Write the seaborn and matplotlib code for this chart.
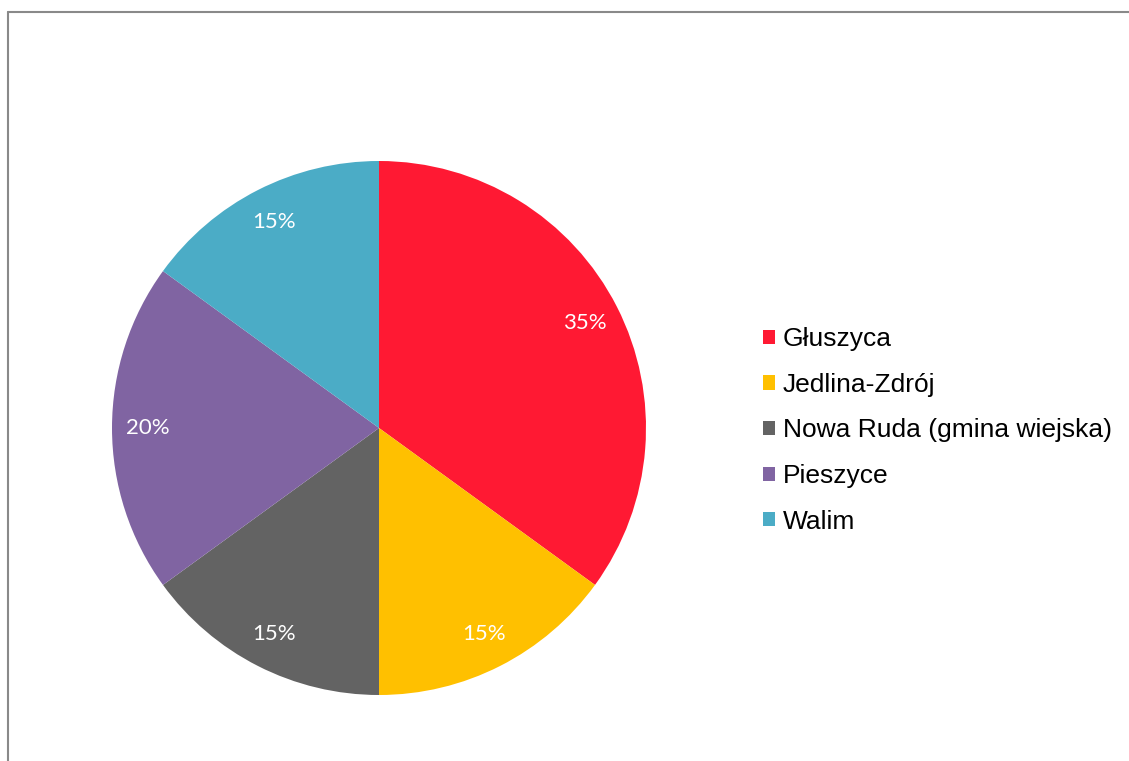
import matplotlib
matplotlib.use("Agg")
import matplotlib.pyplot as plt
import seaborn as sns
from matplotlib.patches import Patch
from matplotlib.lines import Line2D

gminy = ['Głuszyca', 'Jedlina-Zdrój', 'Nowa Ruda (gmina wiejska)', 'Pieszyce', 'Walim']
udzial = [35, 15, 15, 20, 15]
kolory = ['#FF1933', '#FFC000', '#636363', '#8064A2', '#4BACC6']

sns.set_theme(style="white")
plt.rcParams['font.family'] = ['Liberation Sans', 'DejaVu Sans']
plt.rcParams['text.color'] = 'black'

fig = plt.figure(figsize=(11.29, 7.61), dpi=100)
W, H = 1129, 761

# pie center (379, 428), radius 267 px
cx, cy, r = 379, 428, 267
ax = fig.add_axes([(cx - r) / W, 1 - (cy + r) / H, 2 * r / W, 2 * r / H])
wedges, texts, autotexts = ax.pie(
    udzial, colors=kolory, startangle=90, counterclock=False,
    autopct='%1.0f%%', pctdistance=0.865, radius=1,
    wedgeprops=dict(linewidth=0),
    textprops=dict(color='white', fontsize=16, family=['Lato', 'DejaVu Sans']))
ax.set_xlim(-1, 1)
ax.set_ylim(-1, 1)
ax.set_aspect('auto')
ax.axis('off')

handles = [Patch(facecolor=c, edgecolor='none') for c in kolory]
leg = fig.legend(handles, gminy, loc='center left',
                 bbox_to_anchor=(763 / W, 1 - 430.5 / H), bbox_transform=fig.transFigure,
                 frameon=False, fontsize=19, borderpad=0, borderaxespad=0,
                 handlelength=0.45, handleheight=0.45, handletextpad=0.3,
                 labelspacing=0.82)
for t in leg.get_texts():
    t.set_color('black')

# chart-area border (left and top edges visible)
bx, by = 7.5 / W, 1 - 12 / H
fig.add_artist(Line2D([bx, bx], [0, by], transform=fig.transFigure,
                      color='#898989', linewidth=1.5))
fig.add_artist(Line2D([bx, 1], [by, by], transform=fig.transFigure,
                      color='#898989', linewidth=1.5))

fig.savefig('out.png', dpi=100, facecolor='white')
